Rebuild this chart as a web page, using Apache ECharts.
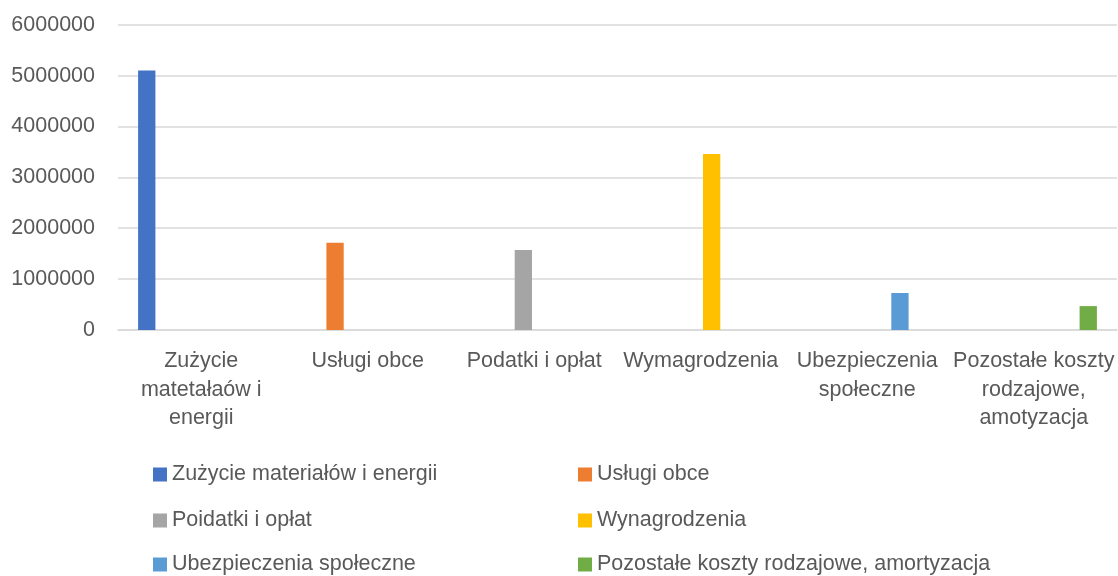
<!DOCTYPE html>
<html>
<head>
<meta charset="utf-8">
<script src="https://cdn.jsdelivr.net/npm/echarts@6/dist/echarts.min.js"></script>
<style>
  html, body { margin: 0; padding: 0; background: #ffffff; }
  #chart { width: 1118px; height: 576px; }
</style>
</head>
<body>
<div id="chart"></div>
<script>
// Cost categories shown on the x axis (line breaks as they wrap under each group)
const categories = [
  'Zużycie\nmatetałaów i\nenergii',
  'Usługi obce',
  'Podatki i opłat',
  'Wymagrodzenia',
  'Ubezpieczenia\nspołeczne',
  'Pozostałe koszty\nrodzajowe,\namotyzacja'
];

// Series names as listed in the legend
const seriesNames = [
  'Zużycie materiałów i energii',
  'Usługi obce',
  'Poidatki i opłat',
  'Wynagrodzenia',
  'Ubezpieczenia społeczne',
  'Pozostałe koszty rodzajowe, amortyzacja'
];

// One value per series; each series only has a value in its own category
const seriesValues = [5100000, 1715000, 1572000, 3458000, 727000, 470000];

const yTicks = { min: 0, max: 6000000, interval: 1000000 };

const colors = ['#4472C4', '#ED7D31', '#A5A5A5', '#FFC000', '#5B9BD5', '#70AD47'];

const FONT = 'Liberation Sans';
const TEXT = '#595959';

const series = seriesNames.map((name, i) => ({
  name: name,
  type: 'bar',
  barWidth: 17.3,
  barGap: '26%',
  itemStyle: { color: colors[i] },
  data: categories.map((c, j) => (j === i ? seriesValues[i] : null))
}));

// Legend laid out as a 2-column grid, one legend component per entry
const legendCols = [153, 578];
const legendRowCenters = [474.5, 520.5, 564.5];
const legends = seriesNames.map((name, i) => ({
  data: [name],
  icon: 'rect',
  itemWidth: 14,
  itemHeight: 14,
  padding: 0,
  left: legendCols[i % 2],
  top: legendRowCenters[Math.floor(i / 2)] - 11,
  textStyle: { color: TEXT, fontFamily: FONT, fontSize: 21.5, lineHeight: 22 }
}));

const chart = echarts.init(document.getElementById('chart'));
chart.setOption({
  animation: false,
  color: colors,
  grid: { left: 118, right: 1, top: 24.7, bottom: 246, containLabel: false },
  legend: legends,
  xAxis: {
    type: 'category',
    data: categories,
    axisTick: { show: false },
    axisLine: { lineStyle: { color: '#D9D9D9', width: 1.5 } },
    axisLabel: {
      interval: 0,
      margin: 17,
      color: TEXT,
      fontFamily: FONT,
      fontSize: 21.5,
      lineHeight: 28.5
    }
  },
  yAxis: {
    type: 'value',
    min: yTicks.min,
    max: yTicks.max,
    interval: yTicks.interval,
    axisLine: { show: false },
    axisTick: { show: false },
    splitLine: { lineStyle: { color: '#D9D9D9', width: 1.5 } },
    axisLabel: {
      margin: 23,
      color: TEXT,
      fontFamily: FONT,
      fontSize: 21.5,
      formatter: v => String(v)
    }
  },
  series: series
});
</script>
</body>
</html>
